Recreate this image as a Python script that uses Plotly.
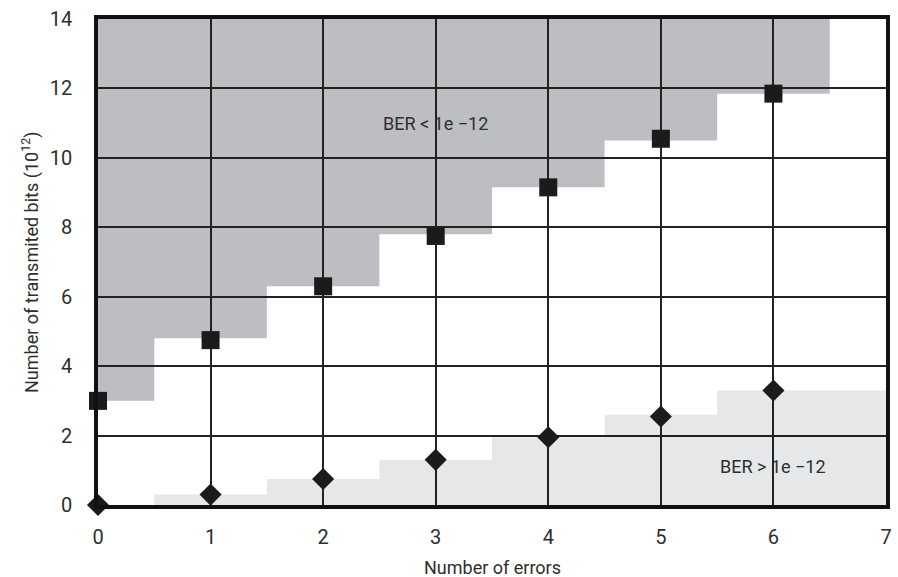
import plotly.graph_objects as go

errors = [0, 1, 2, 3, 4, 5, 6]
bits_pass = [3.0, 4.75, 6.3, 7.75, 9.15, 10.55, 11.85]   # squares
bits_fail = [0.0, 0.3, 0.75, 1.3, 1.95, 2.55, 3.3]       # diamonds
upper_steps = [3.0, 4.8, 6.3, 7.8, 9.15, 10.5, 11.85]    # BER < 1e-12 region floor
lower_steps = [0.0, 0.3, 0.75, 1.3, 1.95, 2.6, 3.3]      # BER > 1e-12 region ceiling
x_ticks = [0, 1, 2, 3, 4, 5, 6, 7]
y_ticks = [0, 2, 4, 6, 8, 10, 12, 14]
X_MAX, Y_MAX = 7, 14

FONT = "Roboto, Liberation Sans, sans-serif"
DARK = "#bdbec2"
LIGHT = "#e6e7e8"
TXT = "#2e2e2e"

# region outlines (step functions) built from the data
dark = [f"M {errors[0]},{Y_MAX}"]
for i, v in enumerate(upper_steps):
    x0 = max(errors[i] - 0.5, 0)
    dark.append(f"L {x0},{v} L {errors[i] + 0.5},{v}")
dark.append(f"L {errors[-1] + 0.5},{Y_MAX} Z")

light = []
first = True
for i, v in enumerate(lower_steps):
    if v <= 0:
        continue
    x0 = errors[i] - 0.5
    x1 = X_MAX if i == len(lower_steps) - 1 else errors[i] + 0.5
    if first:
        light.append(f"M {x0},0")
        first = False
    light.append(f"L {x0},{v} L {x1},{v}")
light.append(f"L {X_MAX},0 Z")

shapes = [
    dict(type="path", xref="x", yref="y", layer="below", path=" ".join(dark),
         fillcolor=DARK, line=dict(width=0)),
    dict(type="path", xref="x", yref="y", layer="below", path=" ".join(light),
         fillcolor=LIGHT, line=dict(width=0)),
]

fig = go.Figure()
fig.add_trace(go.Scatter(x=errors, y=bits_pass, mode="markers",
                         marker=dict(symbol="square", size=18, color="#1c1a1b"),
                         cliponaxis=False, showlegend=False, hoverinfo="skip"))
fig.add_trace(go.Scatter(x=errors, y=bits_fail, mode="markers",
                         marker=dict(symbol="diamond", size=17, color="#1c1a1b"),
                         cliponaxis=False, showlegend=False, hoverinfo="skip"))

fig.add_annotation(x=3.0, y=11.0, text="BER < 1e \u221212", showarrow=False,
                   font=dict(family=FONT, size=18, color=TXT))
fig.add_annotation(x=6.0, y=1.1, text="BER > 1e \u221212", showarrow=False,
                   font=dict(family=FONT, size=18, color=TXT))
fig.add_annotation(x=0.5, y=0, xref="paper", yref="paper", yshift=-62,
                   text="Number of errors", showarrow=False, yanchor="middle",
                   font=dict(family=FONT, size=18, color=TXT))
fig.add_annotation(x=0, y=0.5, xref="paper", yref="paper", xshift=-68,
                   text="Number of transmited bits (10<sup>12</sup>)", showarrow=False,
                   textangle=-90, xanchor="center",
                   font=dict(family=FONT, size=18, color=TXT))

fig.update_layout(
    width=898, height=577,
    margin=dict(l=98, r=12, t=19, b=72, autoexpand=False),
    paper_bgcolor="white", plot_bgcolor="white",
    shapes=shapes,
    font=dict(family=FONT, size=18, color=TXT),
    xaxis=dict(range=[0, X_MAX], tickvals=x_ticks, showgrid=True, gridcolor="#222222",
               gridwidth=1.5, zeroline=False, showline=True, linecolor="#111111",
               linewidth=3.5, mirror=True, ticks="", ticklabelstandoff=11,
               tickfont=dict(size=20), automargin=False),
    yaxis=dict(range=[0, Y_MAX], tickvals=y_ticks, showgrid=True, gridcolor="#222222",
               gridwidth=1.5, zeroline=False, showline=True, linecolor="#111111",
               linewidth=3.5, mirror=True, ticks="", ticklabelstandoff=18,
               tickfont=dict(size=20), automargin=False),
)

fig.write_html("out.html", config={"displayModeBar": False},
               post_script="document.body.style.margin='0';")
